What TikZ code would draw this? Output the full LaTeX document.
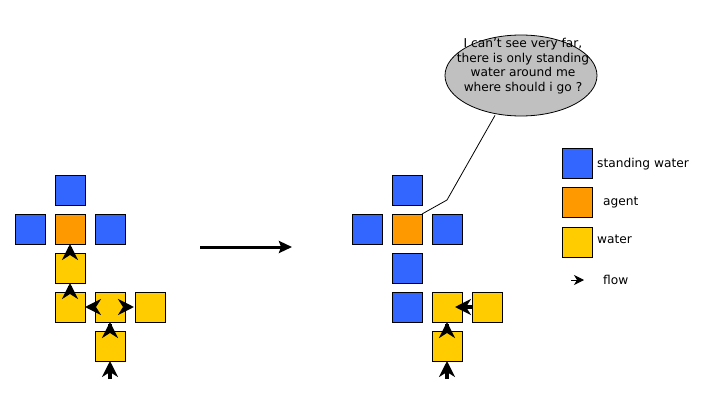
\documentclass[tikz,border=0pt]{standalone}
\usepackage{fontspec}
\setmainfont{DejaVu Sans}
\usetikzlibrary{arrows.meta,shapes.geometric}
\definecolor{sblue}{RGB}{51,102,255}
\definecolor{sorange}{RGB}{255,153,0}
\definecolor{syellow}{RGB}{255,204,0}
\definecolor{sgray}{RGB}{192,192,192}
\begin{document}
\begin{tikzpicture}[x=1pt,y=-1pt,
  cell/.style={draw=black,line width=0.9pt,minimum size=30pt,inner sep=0pt,outer sep=0pt},
  sw/.style={cell,fill=sblue},
  ag/.style={cell,fill=sorange},
  wa/.style={cell,fill=syellow},
  flow/.style={line width=3.5pt,-{Stealth[length=16pt 0,width=16pt 0,inset=5pt 0]}},
  smallflow/.style={line width=1pt,-{Stealth[length=10pt 0,width=10pt 0,inset=3pt 0]}},
  txt/.style={font=\fontsize{12.2}{14.5}\selectfont,inner sep=0pt}]
\useasboundingbox (0,0) rectangle (705,415);
% left cluster
\node[sw] (L1) at (70,190) {};
\node[sw] (L2a) at (30,229) {};
\node[ag] (L2b) at (70,229) {};
\node[sw] (L2c) at (110,229) {};
\node[wa] (L3) at (70,268) {};
\node[wa] (L4a) at (70,307) {};
\node[wa] (L4b) at (110,307) {};
\node[wa] (L4c) at (150,307) {};
\node[wa] (L5) at (110,346) {};
\coordinate (Lin) at (110,379);
\draw[flow,shorten <=-6pt] (L3) -- (L2b);
\draw[flow,shorten <=-6pt] (L4a) -- (L3);
\draw[flow,shorten <=-7pt] (L5) -- (L4b);
\draw[flow] (Lin) -- (L5);
\draw[flow,shorten <=-6pt] (L4b) -- (L4a);
\draw[flow,shorten <=0pt,shorten >=1pt] (L4b) -- (L4c);
% big arrow
\coordinate (A1) at (200,247);
\coordinate (A2) at (292,247);
\draw[line width=3pt,-{Stealth[length=13pt 0,width=12pt 0,inset=2pt 0]}] (A1) -- (A2);
% right cluster
\node[sw] (R1) at (407,190) {};
\node[sw] (R2a) at (367,229) {};
\node[ag] (R2b) at (407,229) {};
\node[sw] (R2c) at (447,229) {};
\node[sw] (R3) at (407,268) {};
\node[sw] (R4a) at (407,307) {};
\node[wa] (R4b) at (447,307) {};
\node[wa] (R4c) at (487,307) {};
\node[wa] (R5) at (447,346) {};
\coordinate (Rin) at (447,379);
\draw[flow,shorten <=-7pt] (R5) -- (R4b);
\draw[flow] (Rin) -- (R5);
\draw[flow,shorten >=-7pt] (R4c) -- (R4b);
% speech bubble
\node[ellipse,draw=black,line width=0.8pt,fill=sgray,minimum width=152pt,minimum height=81pt,inner sep=0pt] (bubble) at (521,75.5) {};
\node[txt,align=center] (btext) at (523,66) {I can't see very far,\\there is only standing\\water around me\\where should i go ?};
\coordinate (bend) at (447,200);
\draw[line width=0.8pt] (bubble.south) ++(-26,-1) coordinate (bstart) -- (bend) -- (R2b.north east);
% legend
\node[sw] (K1) at (577,163) {};
\node[ag] (K2) at (577,202) {};
\node[wa] (K3) at (577,242) {};
\coordinate (F1) at (571,280);
\coordinate (F2) at (584,280);
\draw[smallflow] (F1) -- (F2);
\node[txt,anchor=west] (t1) at (597,164) {standing water};
\node[txt,anchor=west] (t2) at (603,202) {agent};
\node[txt,anchor=west] (t3) at (597,239) {water};
\node[txt,anchor=west] (t4) at (603,280) {flow};
\end{tikzpicture}
\end{document}
